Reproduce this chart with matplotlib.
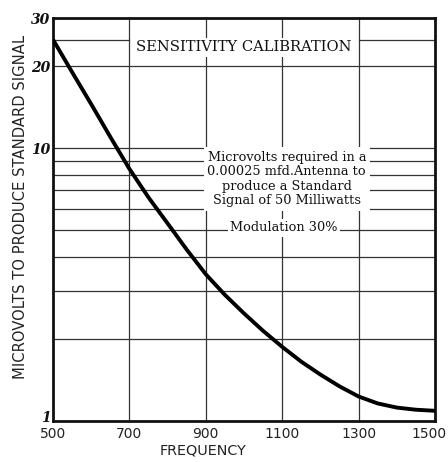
import matplotlib
matplotlib.use("Agg")
import matplotlib.pyplot as plt
import matplotlib.transforms as mtransforms
from matplotlib.ticker import FixedLocator, NullLocator, FixedFormatter

# Sensitivity curve: microvolts needed vs. frequency (kc)
frequency = [500, 550, 600, 650, 700, 750, 800, 850, 900, 950, 1000,
             1050, 1100, 1150, 1200, 1250, 1300, 1350, 1400, 1450, 1500]
microvolts = [25.0, 19.0, 14.5, 11.0, 8.4, 6.6, 5.3, 4.25, 3.45, 2.9, 2.48,
              2.14, 1.87, 1.65, 1.48, 1.34, 1.23, 1.16, 1.12, 1.10, 1.09]

x_ticks = [500, 700, 900, 1100, 1300, 1500]
x_tick_labels = ["500", "700", "900", "1100", "1300", "1500"]
y_ticks = [1, 10, 20, 30]
y_tick_labels = ["1", "10", "20", "30"]
x_grid = [700, 900, 1100, 1300]
y_grid = [2, 3, 4, 5, 6, 7, 8, 9, 10, 20]

title_text = "SENSITIVITY CALIBRATION"
note_lines = ("Microvolts required in a\n0.00025 mfd.Antenna to\n"
              "produce a Standard\nSignal of 50 Milliwatts")
note_mod = "Modulation 30%"

fig = plt.figure(figsize=(4.48, 4.62), dpi=100)
ax = fig.add_axes([0.1183, 0.0887, 0.971 - 0.1183, 0.961 - 0.0887])
ax.set_yscale("log")
ax.set_xlim(500, 1500)
ax.set_ylim(1, 30)

grid_kw = dict(color="#333333", lw=0.9, zorder=1)
for gx in x_grid:
    ax.axvline(gx, **grid_kw)
for gy in y_grid:
    ax.axhline(gy, **grid_kw)
# the 25 line is broken by the title panel between 700 and 1300
ax.axhline(25, xmin=0.0, xmax=0.2, **grid_kw)
ax.axhline(25, xmin=0.8, xmax=1.0, **grid_kw)

ax.plot(frequency, microvolts, color="black", lw=2.8, zorder=4,
        solid_capstyle="butt", solid_joinstyle="round")

ax.text(1000, 23.4, title_text, ha="center", va="center",
        family="DejaVu Serif", fontsize=10.6, color="#111111", zorder=3,
        bbox=dict(facecolor="white", edgecolor="none", pad=1.5))

ax.text(1112, 7.7, note_lines, ha="center", va="center", linespacing=1.15,
        family="DejaVu Serif", fontsize=9.3, color="#111111", zorder=3,
        bbox=dict(facecolor="white", edgecolor="none", pad=2.5))
ax.text(1105, 5.1, note_mod, ha="center", va="center",
        family="DejaVu Serif", fontsize=9.3, color="#111111", zorder=3,
        bbox=dict(facecolor="white", edgecolor="none", pad=1.5))

for side in ["left", "bottom", "top", "right"]:
    ax.spines[side].set_linewidth(2.0)
    ax.spines[side].set_color("#111111")

ax.xaxis.set_major_locator(FixedLocator(x_ticks))
ax.xaxis.set_major_formatter(FixedFormatter(x_tick_labels))
ax.xaxis.set_minor_locator(NullLocator())
ax.yaxis.set_major_locator(FixedLocator(y_ticks))
ax.yaxis.set_major_formatter(FixedFormatter(y_tick_labels))
ax.yaxis.set_minor_locator(NullLocator())
ax.tick_params(axis="both", length=0)
ax.tick_params(axis="x", pad=4, labelsize=10, labelcolor="#222222")
ax.tick_params(axis="y", pad=2, labelsize=10, labelcolor="#111111")
for lbl in ax.get_yticklabels():
    lbl.set_family("DejaVu Serif")
    lbl.set_fontweight("bold")
    lbl.set_fontstyle("italic")

# nudge the "1" up off the corner and pull "1500" back inside the edge
shift_up = mtransforms.ScaledTranslation(0, 3 / 72, fig.dpi_scale_trans)
shift_left = mtransforms.ScaledTranslation(-4 / 72, 0, fig.dpi_scale_trans)
fig.canvas.draw()
ylabs = ax.get_yticklabels()
ylabs[0].set_transform(ylabs[0].get_transform() + shift_up)
xlabs = ax.get_xticklabels()
xlabs[-1].set_transform(xlabs[-1].get_transform() + shift_left)

fig.text(0.045, 0.552, "MICROVOLTS TO PRODUCE STANDARD SIGNAL", rotation=90,
         ha="center", va="center", fontsize=10.6, color="#222222")
fig.text(0.453, 0.024, "FREQUENCY", ha="center", va="center",
         fontsize=10.4, color="#222222")

fig.savefig("out.png", dpi=100, facecolor="white")
